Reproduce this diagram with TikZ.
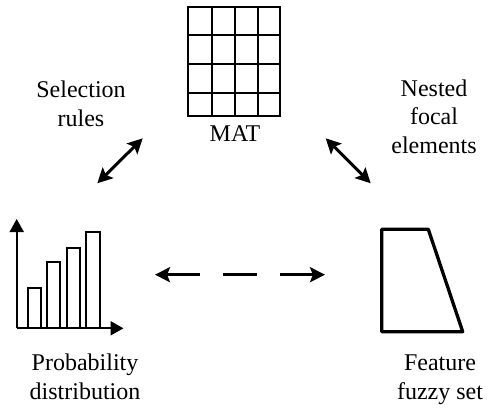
\documentclass[tikz,border=0pt]{standalone}
\usepackage{fontspec}
\setmainfont{Liberation Serif}
\usetikzlibrary{arrows.meta}
\begin{document}
\begin{tikzpicture}[x=1pt,y=-1pt,
  lbl/.style={inner sep=0pt,align=center,anchor=base,font=\fontsize{24}{28.5}\selectfont},
  thin line/.style={line width=2pt,line join=miter},
  tip/.style={Stealth[length=15pt,width=15pt,inset=3pt]},
  link/.style={line width=3pt},
  twoway/.style={link,{Stealth[length=15pt,width=15pt,inset=3pt]}-{Stealth[length=15pt,width=15pt,inset=3pt]}},
  leftway/.style={link,{Stealth[length=15pt,width=15pt,inset=3pt]}-},
  rightway/.style={link,-{Stealth[length=15pt,width=15pt,inset=3pt]}},
  axis/.style={line width=2pt,-{Triangle[length=13pt,width=14pt]}},
  trap/.style={line width=3.3pt,line join=round}]
\useasboundingbox (0,0) rectangle (487,408);

% matrix grid (MAT)
\foreach \gx in {188,211.5,234.5,257.5,280} \draw[thin line,line cap=rect] (\gx,7) -- (\gx,116);
\foreach \gy in {7,35,63.5,93,116} \draw[thin line,line cap=rect] (188,\gy) -- (280,\gy);
\node[lbl] (mat) at (235,141.5) {MAT};

% bar chart (probability distribution)
\coordinate (origin) at (16.7,328.3);
\coordinate (ytip) at (16.7,219);
\coordinate (xtip) at (123.5,328.3);
\draw[thin line] (27.7,328.3) rectangle (41.3,288.3);
\draw[thin line] (46.7,328.3) rectangle (60.3,261.7);
\draw[thin line] (66.7,328.3) rectangle (80,248.3);
\draw[thin line] (86.3,328.3) rectangle (100,232.3);
\draw[axis] (origin) -- (ytip);
\draw[axis] (origin) -- (xtip);
% (base anchor of a multi-line label sits on its last line)
\node[lbl] (prob) at (85,399) {Probability\\distribution};

% trapezoid (feature fuzzy set)
\draw[trap] (381.7,229.3) -- (428.3,229.3) -- (462.7,331.7) -- (381.7,331.7) -- cycle;
\node[lbl] (fuzzy) at (440,399) {Feature\\fuzzy set};

% relation labels
\node[lbl] (sel) at (81,126) {Selection\\rules};
\node[lbl] (nest) at (434,153) {Nested\\focal\\elements};

% connectors
\coordinate (selA) at (142.7,138.3);
\coordinate (selB) at (97.3,183.3);
\coordinate (nestA) at (325.7,138.3);
\coordinate (nestB) at (370.7,183.3);
\draw[twoway] (selA) -- (selB);
\draw[twoway] (nestA) -- (nestB);

% dashed two-way link between the bar chart and the fuzzy set
\coordinate (dL) at (155,274.7);
\coordinate (d1) at (200,274.7);
\coordinate (d2) at (222.7,274.7);
\coordinate (d3) at (256.7,274.7);
\coordinate (d4) at (280,274.7);
\coordinate (dR) at (325,274.7);
\draw[leftway] (dL) -- (d1);
\draw[link] (d2) -- (d3);
\draw[rightway] (d4) -- (dR);
\end{tikzpicture}
\end{document}
